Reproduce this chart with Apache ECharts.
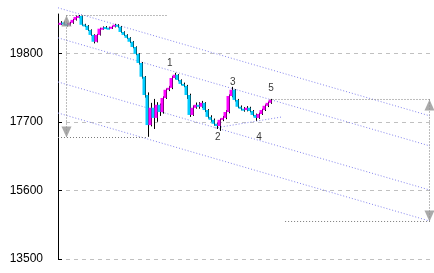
<!DOCTYPE html>
<html><head><meta charset="utf-8">
<script src="https://cdn.jsdelivr.net/npm/echarts@6/dist/echarts.min.js"></script>
<style>html,body{margin:0;padding:0;background:#fff}#c{width:434px;height:273px}</style>
</head><body><div id="c"></div>
<script>
// y-axis ticks
const yTicks = [13500, 15600, 17700, 19800];
// OHLC data (one candle per session)
const opens = [20700,20740,20700,20660,20730,20820,20900,20940,20680,20640,20510,20360,20150,20360,20550,20600,20580,20570,20610,20670,20610,20450,20360,20270,20150,19990,19780,19500,19080,18520,17600,18130,17820,18220,18000,18430,18680,18740,19040,19140,18980,18860,18800,18520,17910,18130,18220,18160,18280,18060,17850,17760,17640,17570,17760,17820,18000,18490,18680,18370,18160,18100,18060,18130,18030,17910,17820,17940,18060,18190,18280];
const closes = [20730,20700,20670,20730,20820,20910,20940,20670,20640,20510,20360,20150,20360,20550,20580,20580,20570,20610,20670,20610,20450,20360,20270,20150,19990,19780,19500,19080,18520,17600,18130,17820,18220,18000,18430,18680,18740,19040,19140,18980,18860,18800,18520,17910,18130,18220,18160,18280,18060,17850,17760,17640,17570,17760,17820,18000,18490,18680,18370,18160,18100,18060,18130,18030,17910,17820,17940,18060,18190,18280,18370];
const highs = [20780,20770,20730,20760,20850,20950,20970,20950,20700,20660,20530,20380,20390,20580,20620,20630,20610,20640,20700,20690,20630,20470,20380,20290,20170,20010,19800,19530,19100,18600,18280,18400,18300,18260,18480,18720,18800,19100,19200,19160,19000,18900,18830,18560,18200,18290,18300,18340,18300,18090,17900,17800,17680,17800,17880,18060,18540,18770,18700,18400,18200,18150,18180,18160,18060,17950,17980,18100,18230,18320,18400];
const lows = [20660,20660,20620,20640,20700,20800,20870,20640,20600,20480,20330,20100,20130,20340,20520,20540,20530,20540,20590,20580,20420,20330,20240,20110,19950,19740,19450,19020,18440,17240,17560,17480,17700,17880,17950,18400,18640,18700,19000,18940,18820,18760,18400,17850,17880,18100,18100,18120,18000,17800,17700,17580,17480,17420,17720,17780,17960,18450,18320,18120,18050,18010,18020,17990,17870,17730,17790,17910,18030,18150,18250];
// wave labels: [session position, price, text]
const waveLabels = [[37.3,19500,'1'],[53.3,17240,'2'],[58.3,18920,'3'],[67,17240,'4'],[71,18740,'5']];
// parallel channel lines (start/end in session position, price)
const channelLines = [
  [[0,21190],[124,17880]],
  [[0,20270],[124,16960]],
  [[0,18920],[124,15610]],
  [[0,17970],[124,14660]],
  [[52.3,17510],[74.7,17850]]
];
// measured-move annotation (gray)
const moveLines = [
  [[2.83,20954],[2.83,17219]],
  [[2.83,20954],[36.3,20954]],
  [[0,17219],[29.7,17219]],
  [[70.5,18383],[124,18383]],
  [[75.7,14648],[124,14648]],
  [[123.83,18383],[123.83,14648]]
];
const arrowsUp = [[2.83,20954],[123.83,18383]];
const arrowsDown = [[2.83,17219],[123.83,14648]];

const candleData = closes.map((c,i)=>[i+0.5, opens[i], c, lows[i], highs[i]]);

const series = [];
channelLines.forEach(seg=>series.push({type:'line',data:seg,symbol:'none',clip:false,silent:true,animation:false,z:1,
  lineStyle:{color:'#8585ee',width:1,type:[1,2]}}));
moveLines.forEach(seg=>series.push({type:'line',data:seg,symbol:'none',clip:false,silent:true,animation:false,z:2,
  lineStyle:{color:'#7a7a7a',width:1,type:[1,2]}}));
series.push({type:'custom',animation:false,z:5,clip:false,data:candleData,encode:{x:0,y:[1,2,3,4]},
  renderItem:function(params, api){
    const x = api.value(0);
    const o = api.coord([x, api.value(1)]);
    const c = api.coord([x, api.value(2)]);
    const l = api.coord([x, api.value(3)]);
    const h = api.coord([x, api.value(4)]);
    const up = api.value(2) >= api.value(1);
    const px = Math.round(o[0]);
    const top = Math.min(o[1], c[1]), bot = Math.max(o[1], c[1]);
    return {type:'group', children:[
      {type:'line', shape:{x1:px+1.5,y1:h[1],x2:px+1.5,y2:l[1]}, style:{stroke:'#000',lineWidth:1}},
      {type:'rect', shape:{x:px-1.5,y:top,width:3,height:Math.max(bot-top,2)}, style:{fill: up?'#ff00ff':'#00ccff'}}
    ]};
  }});
series.push({type:'scatter',animation:false,silent:true,z:6,clip:false,symbol:'triangle',symbolSize:[10,11],
  itemStyle:{color:'#959595'},
  data:arrowsUp.map(p=>({value:p,symbolOffset:[0,'50%']})).concat(arrowsDown.map(p=>({value:p,symbolRotate:180,symbolOffset:[0,'-50%']})))});
series.push({type:'scatter',animation:false,silent:true,z:7,clip:false,symbolSize:0,
  data:waveLabels.map(w=>({value:[w[0],w[1]],name:w[2]})),
  label:{show:true,position:'inside',formatter:p=>p.name,color:'#000',fontSize:10,fontFamily:'Liberation Sans, Arial, sans-serif'}});

const chart = echarts.init(document.getElementById('c'), null, {renderer:'canvas'});
chart.setOption({
  animation:false,
  backgroundColor:'#fff',
  grid:{left:58,right:4,top:14,bottom:14,containLabel:false},
  xAxis:{type:'value',min:0,max:124,show:false},
  yAxis:{type:'value',min:yTicks[0],max:21000,interval:2100,
    axisLine:{show:true,lineStyle:{color:'#000',width:1}},
    axisTick:{show:true,inside:true,length:4,lineStyle:{color:'#000'}},
    axisLabel:{show:true,showMaxLabel:false,margin:15,color:'#000',fontSize:12,
      fontFamily:"'Liberation Sans Narrow', 'Liberation Sans', sans-serif",
      formatter:v=>yTicks.indexOf(v)>=0?String(v):''},
    splitLine:{show:true,showMaxLine:false,lineStyle:{color:'#c0c0c0',width:1,type:[4,4]}}},
  series:series
});
</script></body></html>
